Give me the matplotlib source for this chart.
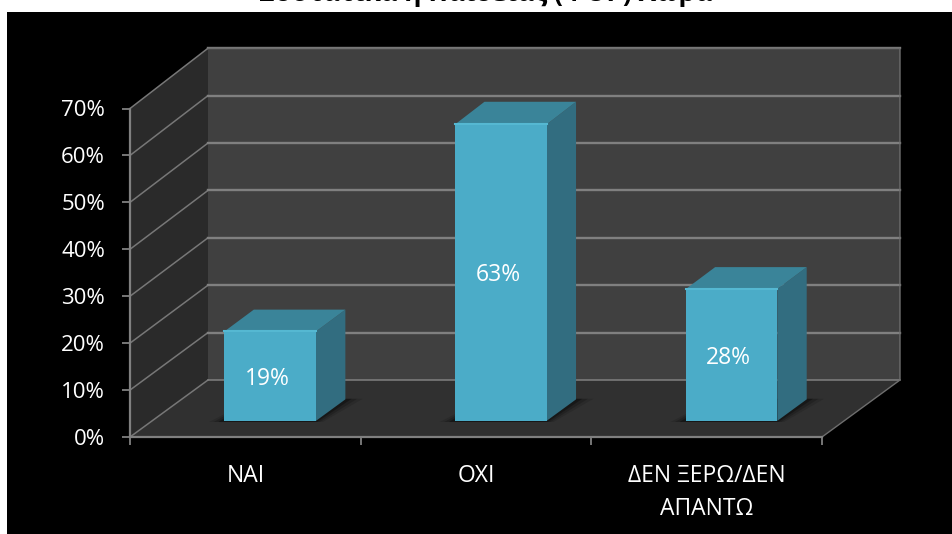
import matplotlib
matplotlib.use("Agg")
import matplotlib.pyplot as plt
from matplotlib.patches import Polygon, Rectangle

categories = ["ΝΑΙ", "ΟΧΙ", "ΔΕΝ ΞΕΡΩ/ΔΕΝ\nΑΠΑΝΤΩ"]
values = [19, 63, 28]
value_labels = ["19%", "63%", "28%"]
y_ticks = [0, 10, 20, 30, 40, 50, 60, 70]
y_tick_labels = ["0%", "10%", "20%", "30%", "40%", "50%", "60%", "70%"]
title = "Συστατικά ή Παιδείας (ΦΟΡ) Χώρα"

plt.rcParams['font.family'] = ['Open Sans', 'DejaVu Sans']

W, H = 952, 534
fig = plt.figure(figsize=(W / 100, H / 100), dpi=100, facecolor="white")

# black panel behind everything
fig.add_artist(Rectangle((7 / W, 0), (W - 7) / W, (H - 12) / H, transform=fig.transFigure,
                         facecolor="black", edgecolor="none", zorder=-1))

left, right, top, bottom = 130, 822, 108.5, 437
ax = fig.add_axes([left / W, 1 - bottom / H, (right - left) / W, (bottom - top) / H])
ax.set_xlim(0, len(categories))
ax.set_ylim(0, 70)
ax.patch.set_visible(False)

# depth of the fake 3d box, in data units
DX = 78 / ((right - left) / 3)
DY = 57 / ((bottom - top) / 70)


def pt(x, y, d=0.0):
    # back wall is a touch taller than the front, slight perspective
    return (x + DX * d, y * (1 + 0.01 * d) + DY * d)


def face(points, **kw):
    ax.add_patch(Polygon(points, closed=True, clip_on=False, edgecolor="none", **kw))


n = len(categories)
face([pt(0, 0, 1), pt(n, 0, 1), pt(n, 70, 1), pt(0, 70, 1)], facecolor="#404040", zorder=1)
face([pt(0, 0), pt(0, 0, 1), pt(0, 70, 1), pt(0, 70)], facecolor="#2a2a2a", zorder=1)
face([pt(0, 0), pt(n, 0), pt(n, 0, 1), pt(0, 0, 1)], facecolor="#303030", zorder=1)

for t in y_ticks:
    xs, ys = zip(pt(0, t), pt(0, t, 1))
    ax.plot(xs, ys, color="#777777", lw=1.1, clip_on=False, zorder=2)
    xs, ys = zip(pt(0, t, 1), pt(n, t, 1))
    ax.plot(xs, ys, color="#808080", lw=1.1 if t == 0 else 1.7, clip_on=False, zorder=2)
ax.plot(*zip(pt(n, 0), pt(n, 0, 1), pt(n, 70, 1), pt(0, 70, 1)), color="#6e6e6e", lw=1.0,
        clip_on=False, zorder=2)

bar_w = 0.397
d0, d1 = 0.283, 0.66
for i, v in enumerate(values):
    x0, x1 = i + 0.512 - bar_w / 2, i + 0.512 + bar_w / 2
    # soft shadow on the floor
    for grow, a in [(0.06, 0.12), (0.04, 0.18), (0.02, 0.3)]:
        face([pt(x0 - grow, 0, d0 - 0.02), pt(x1 + grow * 0.6, 0, d0 - 0.02),
              pt(x1 + grow * 1.2, 0, d1 + 0.01), pt(x0, 0, d1 + 0.01)],
             facecolor="black", alpha=a, zorder=3)
    face([pt(x1, 0, d0), pt(x1, 0, d1), pt(x1, v, d1), pt(x1, v, d0)], facecolor="#326D80", zorder=4)
    face([pt(x0, v, d0), pt(x1, v, d0), pt(x1, v, d1), pt(x0, v, d1)], facecolor="#3A8499", zorder=4)
    face([pt(x0, 0, d0), pt(x1, 0, d0), pt(x1, v, d0), pt(x0, v, d0)], facecolor="#4BACC8", zorder=5)
    ax.plot(*zip(pt(x0, v, d0), pt(x1, v, d0)), color="#55B8D2", lw=1.5, clip_on=False, zorder=6)
    ax.annotate(value_labels[i], pt(i + 0.5, v / 2, d0), xytext=(0, -2), textcoords="offset points",
                color="white", fontsize=16.5, ha="center", va="center", zorder=7, annotation_clip=False)

for s in ("top", "right"):
    ax.spines[s].set_visible(False)
for s in ("left", "bottom"):
    ax.spines[s].set_color("#808080")
    ax.spines[s].set_linewidth(1.6)
    ax.spines[s].set_zorder(8)

ax.set_yticks(y_ticks, y_tick_labels)
ax.set_xticks(range(n + 1), [""] * (n + 1))
ax.tick_params(axis="y", colors="#808080", labelcolor="white", labelsize=16, length=6, width=1.3, pad=12)
ax.tick_params(axis="x", colors="#808080", length=6, width=1.3)
for i, c in enumerate(categories):
    ax.annotate(c, (i + 0.5, 0), xytext=(0, -19.5), textcoords="offset points", color="white",
                fontsize=16.5, ha="center", va="top", linespacing=1.48, annotation_clip=False)

fig.text(486 / W, 1 - 1 / H, title, color="black", fontsize=19, fontweight="bold", ha="center", va="baseline")

fig.savefig("out.png", dpi=100, facecolor="white")
